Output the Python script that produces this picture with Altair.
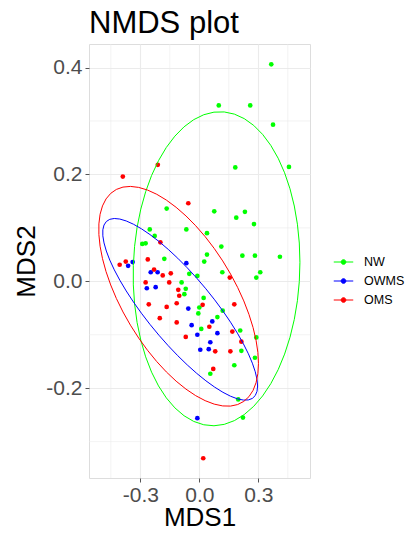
import numpy as np
import pandas as pd
import altair as alt

groups = ["NW", "OWMS", "OMS"]
colors = ["#00FF00", "#0000FF", "#FF0000"]

nw_x = [0.366, 0.099, 0.259, 0.375, 0.183, 0.456, -0.166, 0.076, 0.232, 0.188,
        0.278, -0.252, -0.066, 0.039, -0.227, -0.290, -0.273, 0.112, -0.178, 0.039,
        0.025, 0.219, 0.283, 0.410, -0.051, -0.010, 0.117, 0.310, 0.290, -0.090,
        -0.069, -0.076, 0.022, 0.000, -0.005, 0.119, 0.092, 0.010, 0.208, 0.290,
        0.214, 0.283, 0.178, 0.056, 0.198, 0.222]
nw_y = [0.406, 0.329, 0.329, 0.293, 0.213, 0.214, 0.136, 0.131, 0.130, 0.119,
        0.107, 0.097, 0.097, 0.090, 0.085, 0.070, 0.071, 0.065, 0.042, 0.050,
        0.037, 0.048, 0.048, 0.046, 0.014, 0.010, 0.017, 0.017, 0.007, -0.002,
        -0.014, -0.024, -0.031, -0.049, -0.060, -0.055, -0.067, -0.089, -0.092, -0.105,
        -0.130, -0.143, -0.157, -0.173, -0.221, -0.255]

owms_x = [-0.066, -0.362, -0.339, -0.247, -0.212, -0.267, -0.222, -0.056, -0.039, 0.066,
          -0.010, 0.092, 0.056, 0.005, 0.048, -0.010]
owms_y = [0.034, 0.029, 0.036, 0.017, 0.017, -0.013, -0.011, -0.051, -0.082, -0.075,
          -0.100, -0.097, -0.114, -0.128, -0.127, -0.256]

oms_x = [-0.211, -0.389, -0.056, -0.198, -0.262, -0.374, -0.405, -0.230, -0.186, -0.145,
         0.155, -0.273, -0.153, -0.107, -0.102, -0.257, -0.166, -0.115, 0.017, 0.178,
         -0.201, -0.115, 0.051, -0.069, 0.168, 0.214, 0.081, 0.158, 0.071, 0.020]
oms_y = [0.218, 0.196, 0.146, 0.073, 0.041, 0.037, 0.031, 0.022, 0.011, 0.015,
         0.007, -0.002, -0.002, -0.016, -0.027, -0.043, -0.048, -0.041, -0.044, -0.043,
         -0.069, -0.077, -0.085, -0.104, -0.094, -0.113, -0.131, -0.131, -0.164, -0.331]

x_ticks = [-0.3, 0.0, 0.3]
y_ticks = [-0.2, 0.0, 0.2, 0.4]
x_minor = [-0.45, -0.15, 0.15, 0.45]
y_minor = [-0.3, -0.1, 0.1, 0.3]
x_domain = [-0.561, 0.563]
y_domain = [-0.368, 0.444]

series = {"NW": (nw_x, nw_y), "OWMS": (owms_x, owms_y), "OMS": (oms_x, oms_y)}


def cov_trob(X, nu=5, maxit=25, tol=0.01):
    n, p = X.shape
    wt = np.ones(n)
    loc = X.mean(axis=0)
    w = np.sqrt(wt)
    Xc = X - loc
    for _ in range(maxit):
        w0 = w
        Xc = X - loc
        A = np.sqrt(w / w.sum())[:, None] * Xc
        _, d, vt = np.linalg.svd(A, full_matrices=False)
        wX = Xc @ vt.T @ np.diag(1.0 / d)
        Q = (wX ** 2).sum(axis=1)
        w = wt * (nu + p) / (nu + Q)
        loc = (w[:, None] * X).sum(axis=0) / w.sum()
        if np.all(np.abs(w - w0) < tol):
            break
    sw = np.sqrt(w)[:, None] * Xc
    return loc, sw.T @ sw / wt.sum()


def stat_ellipse(xs, ys, level=0.95, segments=51):
    X = np.column_stack([xs, ys])
    n = len(xs)
    center, shape = cov_trob(X)
    dfd = n - 1
    qf = (dfd / 2.0) * ((1 - level) ** (-2.0 / dfd) - 1)
    radius = np.sqrt(2 * qf)
    R = np.linalg.cholesky(shape).T
    ang = np.arange(segments + 1) * 2 * np.pi / segments
    circ = np.column_stack([np.cos(ang), np.sin(ang)])
    return center + radius * (circ @ R)


pts = []
ells = []
for g in groups:
    xs, ys = series[g]
    for a, b in zip(xs, ys):
        pts.append({"x": a, "y": b, "group": g})
    e = stat_ellipse(np.array(xs), np.array(ys))
    for i, (a, b) in enumerate(e):
        ells.append({"x": float(a), "y": float(b), "group": g, "idx": i})

pts_df = pd.DataFrame(pts)
ell_df = pd.DataFrame(ells)

FONT = "Liberation Sans"
lab_expr = "datum.value < 0 ? '-' + format(-datum.value, '.1f') : format(datum.value, '.1f')"

xscale = alt.Scale(domain=x_domain, nice=False, zero=False)
yscale = alt.Scale(domain=y_domain, nice=False, zero=False)

xaxis = alt.Axis(values=x_ticks, labelExpr=lab_expr, title="MDS1", grid=True,
                 gridColor="#EBEBEB", gridWidth=1.1, domain=False, tickColor="#555555",
                 tickSize=4, labelPadding=2, labelFontSize=21, labelColor="#4D4D4D",
                 labelFont=FONT, titleFont=FONT, titleFontSize=26, titleColor="black",
                 titleFontWeight="normal", titleBaseline="alphabetic", titleY=47)
yaxis = alt.Axis(values=y_ticks, labelExpr=lab_expr, title="MDS2", grid=True,
                 gridColor="#EBEBEB", gridWidth=1.1, domain=False, tickColor="#555555",
                 tickSize=4, labelPadding=3, labelFontSize=21, labelColor="#4D4D4D",
                 labelFont=FONT, titleFont=FONT, titleFontSize=26, titleColor="black",
                 titleFontWeight="normal", titleBaseline="alphabetic", titleX=-54.3)

color = alt.Color(
    "group:N",
    scale=alt.Scale(domain=groups, range=colors),
    legend=alt.Legend(
        title=None, orient="none", legendX=244, legendY=207.5, padding=0,
        symbolType="M-1,0H1M-0.24,0A0.24,0.24,0,1,1,0.24,0A0.24,0.24,0,1,1,-0.24,0Z",
        symbolSize=380, symbolStrokeWidth=1, symbolOpacity=1, labelFontSize=12.5,
        labelFont=FONT, labelColor="black", labelOffset=10, rowPadding=2,
    ),
)

minor_x_df = pd.DataFrame({"x": x_minor})
minor_y_df = pd.DataFrame({"y": y_minor})

minor_x = alt.Chart(minor_x_df).mark_rule(color="#EBEBEB", strokeWidth=0.6).encode(
    x=alt.X("x:Q", scale=xscale, axis=xaxis))
minor_y = alt.Chart(minor_y_df).mark_rule(color="#EBEBEB", strokeWidth=0.6).encode(
    y=alt.Y("y:Q", scale=yscale, axis=yaxis))

points = alt.Chart(pts_df).mark_circle(size=22, opacity=1).encode(
    x=alt.X("x:Q", scale=xscale, axis=xaxis),
    y=alt.Y("y:Q", scale=yscale, axis=yaxis),
    color=color,
)

ellipses = alt.Chart(ell_df).mark_line(strokeWidth=1, clip=True).encode(
    x=alt.X("x:Q", scale=xscale, axis=xaxis),
    y=alt.Y("y:Q", scale=yscale, axis=yaxis),
    color=color,
    detail="group:N",
    order="idx:Q",
)

chart = alt.layer(minor_x, minor_y, points, ellipses).properties(
    width=221, height=434,
    autosize=alt.AutoSizeParams(type="none"),
    padding={"left": 81, "top": 36, "right": 95, "bottom": 48},
    title=alt.TitleParams("NMDS plot", anchor="start", frame="group", fontSize=31,
                          font=FONT, fontWeight="normal", color="black", offset=4),
).configure_view(stroke="#7F7F7F", strokeWidth=1.2, fill="white"
).configure(background="white")

chart.save("out.html", embed_options={"renderer": "svg", "actions": False})
